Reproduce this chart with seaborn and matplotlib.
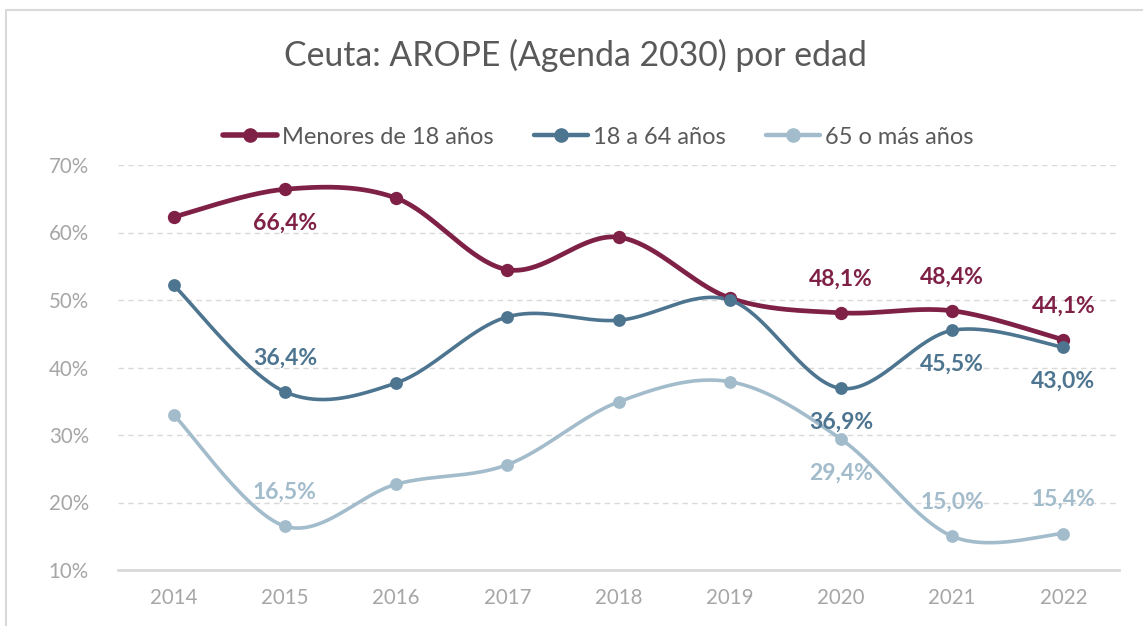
import numpy as np
import pandas as pd
import matplotlib
matplotlib.use("Agg")
import matplotlib.pyplot as plt
import seaborn as sns
from matplotlib.lines import Line2D
from matplotlib.patches import Rectangle

# ---- data ----
years = ["2014", "2015", "2016", "2017", "2018", "2019", "2020", "2021", "2022"]
menores = [62.3, 66.4, 65.1, 54.5, 59.3, 50.3, 48.1, 48.4, 44.1]
adultos = [52.2, 36.4, 37.7, 47.5, 47.0, 50.0, 36.9, 45.5, 43.0]
mayores = [33.0, 16.5, 22.7, 25.6, 34.9, 37.9, 29.4, 15.0, 15.4]
series_names = ["Menores de 18 años", "18 a 64 años", "65 o más años"]
y_ticks = [10, 20, 30, 40, 50, 60, 70]
title = "Ceuta: AROPE (Agenda 2030) por edad"

# which points carry labels, and where (+1 above, -1 below)
labels_menores = {"2015": -1, "2020": 1, "2021": 1, "2022": 1}
labels_adultos = {"2015": 1, "2020": -1, "2021": -1, "2022": -1}
labels_mayores = {"2015": 1, "2020": -1, "2021": 1, "2022": 1}

colors = ["#7F2146", "#4D7590", "#A3BCCC"]
lws = [3.4, 2.6, 2.6]
msizes = [92, 85, 85]

sns.set_theme(style="white")
plt.rcParams["font.family"] = ["Lato", "DejaVu Sans"]

def smooth(xs, ys, n=40):
    P = np.column_stack([xs, ys]).astype(float)
    P_ext = np.vstack([P[0], P, P[-1]])
    out = []
    for i in range(len(P) - 1):
        p0, p1, p2, p3 = P_ext[i], P_ext[i + 1], P_ext[i + 2], P_ext[i + 3]
        c1 = p1 + (p2 - p0) / 6.0
        c2 = p2 - (p3 - p1) / 6.0
        t = np.linspace(0, 1, n)[:, None]
        seg = ((1 - t) ** 3) * p1 + 3 * ((1 - t) ** 2) * t * c1 + 3 * (1 - t) * t ** 2 * c2 + t ** 3 * p2
        out.append(seg if i == 0 else seg[1:])
    return np.vstack(out)

fig = plt.figure(figsize=(11.43, 6.26), dpi=100)
ax = fig.add_axes([118 / 1143, 56 / 626, (1119 - 118) / 1143, (570 - 165) / 626])

xs = np.arange(len(years))
all_series = [menores, adultos, mayores]
all_labels = [labels_menores, labels_adultos, labels_mayores]

for name, vals, col, lw, ms in zip(series_names, all_series, colors, lws, msizes):
    curve = smooth(xs, vals)
    df_c = pd.DataFrame({"x": curve[:, 0], "y": curve[:, 1]})
    sns.lineplot(data=df_c, x="x", y="y", sort=False, estimator=None, color=col,
                 linewidth=lw, ax=ax, zorder=3)
    df_p = pd.DataFrame({"x": xs, "y": vals})
    sns.scatterplot(data=df_p, x="x", y="y", color=col, s=ms, linewidth=0, ax=ax, zorder=4)

for vals, col, labs in zip(all_series, colors, all_labels):
    for yr, pos in labs.items():
        i = years.index(yr)
        txt = f"{vals[i]:.1f}%".replace(".", ",")
        ax.annotate(txt, (i, vals[i]), xytext=(0, 24.5 * pos), textcoords="offset points",
                    ha="center", va="center", fontsize=16.5, fontweight="bold", color=col, zorder=6)

ax.set_xlim(-0.5, len(years) - 0.5)
ax.set_ylim(10, 70)
ax.set_xticks(xs)
ax.set_xticklabels(years)
ax.set_yticks(y_ticks)
ax.set_yticklabels([f"{v}%" for v in y_ticks])
ax.set_xlabel("")
ax.set_ylabel("")
for v in y_ticks[1:]:
    ax.axhline(v, color="#D9D9D9", linewidth=1.0, linestyle=(0, (4, 3)), zorder=1)
for s in ["top", "right", "left"]:
    ax.spines[s].set_visible(False)
ax.spines["bottom"].set_color("#D9D9D9")
ax.spines["bottom"].set_linewidth(2.0)
ax.tick_params(axis="both", length=0, labelsize=14.8, colors="#A6A6A6")
ax.tick_params(axis="x", pad=13)
ax.tick_params(axis="y", pad=21)

fig.text(575 / 1143, 1 - 55 / 626, title, ha="center", va="center", fontsize=24.3, color="#595959")

handles = [Line2D([0], [0], color=c, lw=lw + 0.6, marker="o", markersize=9.5) for c, lw in zip(colors, lws)]
fig.legend(handles, series_names, loc="center", bbox_to_anchor=(598 / 1143, 1 - 137 / 626), ncol=3,
           frameon=False, fontsize=17, handlelength=2.3, handletextpad=0.2, columnspacing=1.7,
           labelcolor="#595959")

fig.patches.append(Rectangle((6 / 1143, -0.05), 1.1, 1 - 10 / 626 + 0.05, transform=fig.transFigure,
                             fill=False, edgecolor="#D9D9D9", linewidth=1.5))

fig.savefig("out.png", dpi=100)
